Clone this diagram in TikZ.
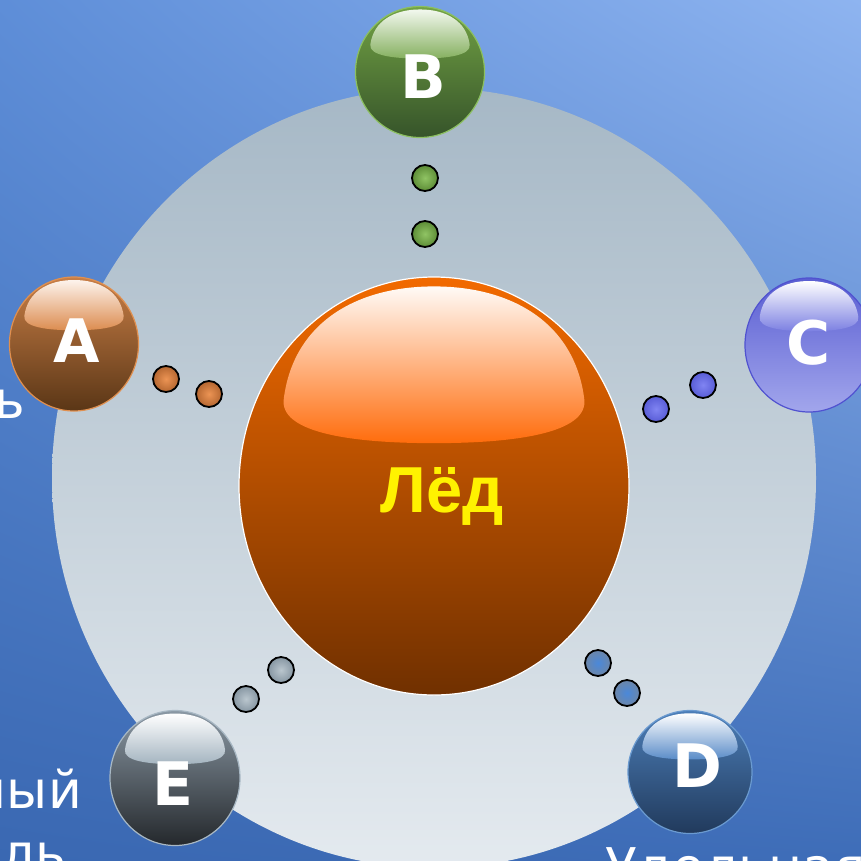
\documentclass[tikz,border=0pt]{standalone}
\usepackage{fontspec}
\setmainfont{DejaVu Sans}
\newfontfamily\icefont{Liberation Sans}
\usetikzlibrary{shadings}

% background and disc
\definecolor{bgUL}{HTML}{5E8ED8}
\definecolor{bgUR}{HTML}{8EB4F0}
\definecolor{bgLL}{HTML}{3A68B2}
\definecolor{bgLR}{HTML}{3E6DB8}
\definecolor{discTop}{HTML}{A6B8C6}
\definecolor{discBot}{HTML}{E4EAEF}

% central ball
\definecolor{Ltop}{HTML}{F26A00}
\definecolor{Lmid}{HTML}{C04C00}
\definecolor{Lbot}{HTML}{703000}
\definecolor{Lhlt}{HTML}{FFFAF6}
\definecolor{Lhlb}{HTML}{FF6C0C}
\definecolor{Lrim}{HTML}{FFFFFF}

% ball A
\definecolor{Atop}{HTML}{C87E46}
\definecolor{Amid}{HTML}{A0622E}
\definecolor{Abot}{HTML}{5A3616}
\definecolor{Ahlt}{HTML}{FDF3EC}
\definecolor{Ahlb}{HTML}{DC8C50}
\definecolor{Arim}{HTML}{E09050}
% ball B
\definecolor{Btop}{HTML}{72A244}
\definecolor{Bmid}{HTML}{5A8A38}
\definecolor{Bbot}{HTML}{36542A}
\definecolor{Bhlt}{HTML}{F2F8EE}
\definecolor{Bhlb}{HTML}{86B060}
\definecolor{Brim}{HTML}{8CC060}
% ball C
\definecolor{Ctop}{HTML}{5A5ED2}
\definecolor{Cmid}{HTML}{6A70D6}
\definecolor{Cbot}{HTML}{A2A6EC}
\definecolor{Chlt}{HTML}{FFFFFF}
\definecolor{Chlb}{HTML}{7C80E2}
\definecolor{Crim}{HTML}{5052D0}
% ball D
\definecolor{Dtop}{HTML}{4C7EB8}
\definecolor{Dmid}{HTML}{3E6898}
\definecolor{Dbot}{HTML}{213A5C}
\definecolor{Dhlt}{HTML}{FFFFFF}
\definecolor{Dhlb}{HTML}{5A8CC8}
\definecolor{Drim}{HTML}{6A9AD0}
% ball E
\definecolor{Etop}{HTML}{8A98A4}
\definecolor{Emid}{HTML}{606C76}
\definecolor{Ebot}{HTML}{24282C}
\definecolor{Ehlt}{HTML}{FFFFFF}
\definecolor{Ehlb}{HTML}{A4B4C0}
\definecolor{Erim}{HTML}{A8B8C4}

% small beads: inner / outer
\definecolor{gIn}{HTML}{90C464}
\definecolor{gOut}{HTML}{5C8C36}
\definecolor{oIn}{HTML}{EC9454}
\definecolor{oOut}{HTML}{B46630}
\definecolor{cIn}{HTML}{8084F2}
\definecolor{cOut}{HTML}{585CD6}
\definecolor{dIn}{HTML}{4A88DA}
\definecolor{dOut}{HTML}{6C86A8}
\definecolor{eIn}{HTML}{BAC6CE}
\definecolor{eOut}{HTML}{8696A2}

% glossy ball: #1 colour prefix, #2,#3 centre, #4,#5 radii
\newcommand\glossyball[5]{%
  \begin{scope}[shift={(#2,#3)}]
    \shade[top color=#1top, middle color=#1mid, bottom color=#1bot]
      (0,0) ellipse [x radius=#4, y radius=#5];
    \draw[#1rim, line width=1.2pt] (0,0) ellipse [x radius=#4, y radius=#5];
    \begin{scope}[xscale=#4, yscale=#5]
      \shade[top color=#1hlt, bottom color=#1hlb]
        (-0.77,-0.42) .. controls (-0.72,-0.78) and (-0.40,-0.955) .. (0,-0.955)
        .. controls (0.40,-0.955) and (0.72,-0.78) .. (0.77,-0.42)
        .. controls (0.80,-0.25) and (0.40,-0.205) .. (0,-0.205)
        .. controls (-0.40,-0.205) and (-0.80,-0.25) .. (-0.77,-0.42) -- cycle;
    \end{scope}
  \end{scope}}

% small bead with a black outline: colour prefix, centre
\newcommand\bead[3]{%
  \shade[inner color=#1In, outer color=#1Out] (#2,#3) circle [radius=13];
  \draw[black, line width=1.8pt] (#2,#3) circle [radius=13];}

\tikzset{
  ballletter/.style={text=white, inner sep=0pt, anchor=base,
    font=\bfseries\fontsize{60}{60}\selectfont},
  icelabel/.style={text=yellow, inner sep=0pt, anchor=base,
    font=\icefont\bfseries\fontsize{65}{65}\selectfont},
  sidetext/.style={text=white, inner sep=0pt,
    font=\fontsize{52}{64}\selectfont},
}

\begin{document}
\begin{tikzpicture}[x=1pt, y=-1pt]
  \useasboundingbox (0,0) rectangle (861,860);
  \begin{scope}
  \clip (0,0) rectangle (861,860);

  % backdrop
  \shade[upper left=bgUL, upper right=bgUR, lower left=bgLL, lower right=bgLR]
    (0,0) rectangle (861,860);

  % side captions
  \node[sidetext, anchor=base east] (capa) at (25,418) {ь};
  \node[sidetext, anchor=base east] (capb) at (82,808) {ный};
  \node[sidetext, anchor=base east] (capc) at (66,871) {ель};
  \node[sidetext, anchor=base west] (capd) at (605,885) {Удельная п};

  % pale disc
  \shade[top color=discTop, bottom color=discBot]
    (434,478) ellipse [x radius=382, y radius=390];

  % central ball
  \glossyball{L}{434}{486}{195}{209}
  \node[icelabel] (ice) at (442,512) {Лёд};

  % beads between the centre and the outer balls
  \bead{g}{425}{178}
  \bead{g}{425}{234}
  \bead{o}{166}{379}
  \bead{o}{209}{394}
  \bead{c}{703}{385}
  \bead{c}{656}{409}
  \bead{d}{598}{663}
  \bead{d}{627}{693}
  \bead{e}{281}{670}
  \bead{e}{246}{699}

  % outer balls
  \glossyball{B}{420}{72}{64.5}{65.5}
  \node[ballletter] (lb) at (423,98) {B};
  \glossyball{A}{74}{344}{64.5}{67}
  \node[ballletter] (la) at (77,362) {A};
  \glossyball{C}{809}{345}{64}{67}
  \node[ballletter] (lc) at (809,364) {C};
  \glossyball{D}{690}{772}{62}{61.5}
  \node[ballletter] (ld) at (697,787) {D};
  \glossyball{E}{175}{778}{65}{67.5}
  \node[ballletter] (le) at (173,805) {E};
  \end{scope}
\end{tikzpicture}
\end{document}
